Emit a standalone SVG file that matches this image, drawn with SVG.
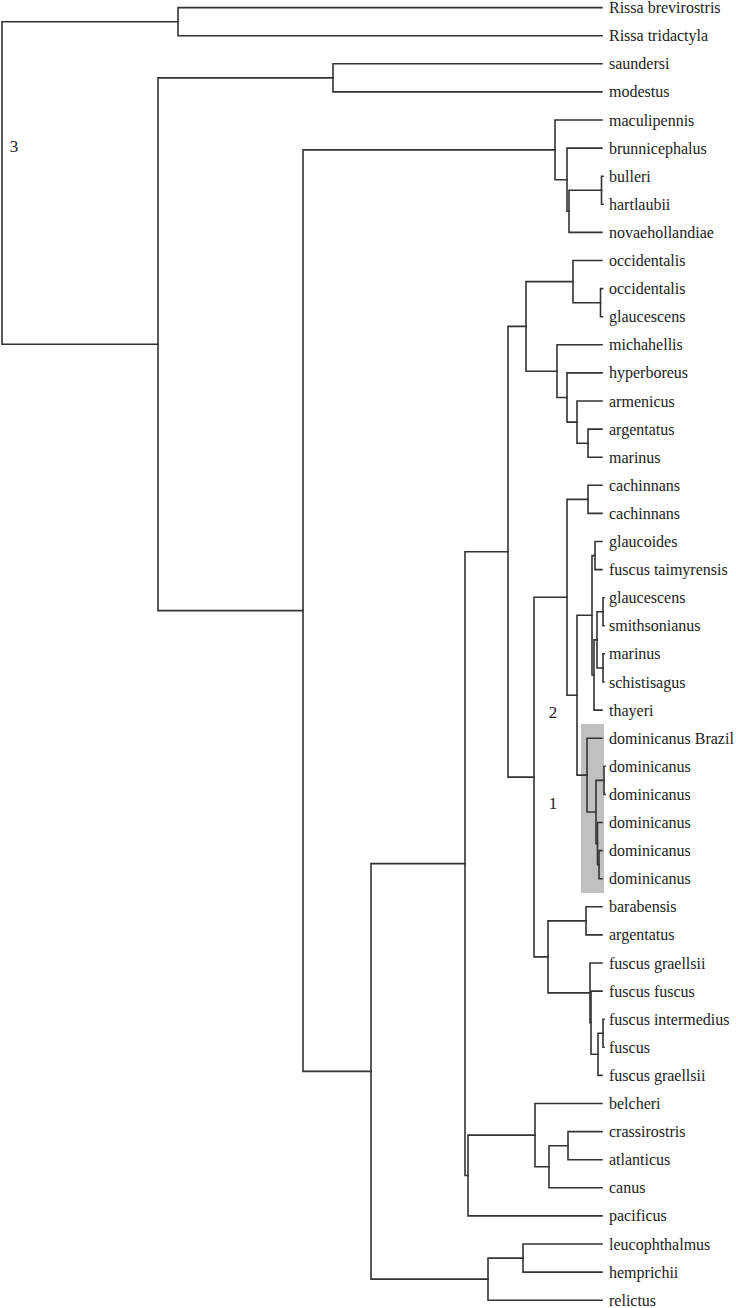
<svg xmlns="http://www.w3.org/2000/svg" width="736" height="1308" viewBox="0 0 736 1308">
<style>
.br{fill:none;stroke:#333;stroke-width:1.6;stroke-linecap:square}
.lf{font-family:"Liberation Serif","Times New Roman",serif;font-size:16px;fill:#222}
.cl{font-family:"Liberation Serif","Times New Roman",serif;font-size:17px;fill:#222;text-anchor:middle}
</style>
<rect x="0" y="0" width="736" height="1308" fill="#fff"/>
<rect id="highlight" x="581" y="724" width="23" height="169" fill="#c0c0c0"/>
<g id="connectors" class="br">
<path d="M178,21.7 H2 V344.2 H158"/>
<path d="M602,7.6 H178 V35.7 H602"/>
<path d="M333,77.9 H158 V610.6 H303"/>
<path d="M602,63.8 H333 V91.9 H602"/>
<path d="M555,149.9 H303 V1071.4 H371"/>
<path d="M602,120 H555 V179.7 H567"/>
<path d="M602,148.1 H567 V211.3 H569"/>
<path d="M601.5,190.3 H569 V232.4 H602"/>
<path d="M603,176.2 H601.5 V204.3 H603"/>
<path d="M465,863.6 H371 V1279.1 H488"/>
<path d="M508,551.7 H465 V1175.5 H468"/>
<path d="M526,326.4 H508 V777.1 H534"/>
<path d="M573,281.6 H526 V371.2 H557"/>
<path d="M602,260.5 H573 V302.7 H600.5"/>
<path d="M602.5,288.6 H600.5 V316.7 H602.5"/>
<path d="M602,344.8 H557 V397.5 H567"/>
<path d="M602,372.9 H567 V422.1 H577"/>
<path d="M602,401 H577 V443.2 H588"/>
<path d="M602,429.1 H588 V457.2 H602"/>
<path d="M567,597.3 H534 V956.9 H548"/>
<path d="M588,499.4 H567 V695.2 H577"/>
<path d="M602,485.3 H588 V513.4 H602"/>
<path d="M592,615.3 H577 V775.1 H587"/>
<path d="M595,555.6 H592 V675 H594"/>
<path d="M602,541.5 H595 V569.6 H602"/>
<path d="M597,639.9 H594 V710.1 H602"/>
<path d="M603,611.8 H597 V668 H603"/>
<path d="M604,597.7 H603 V625.8 H604"/>
<path d="M604,653.9 H603 V682 H604"/>
<path d="M602,738.2 H587 V812 H596"/>
<path d="M604,780.4 H596 V843.6 H597.5"/>
<path d="M605,766.3 H604 V794.4 H605"/>
<path d="M602,822.5 H597.5 V864.7 H599"/>
<path d="M602,850.6 H599 V878.7 H602"/>
<path d="M586,920.9 H548 V992.9 H590"/>
<path d="M602,906.8 H586 V934.9 H602"/>
<path d="M602,963 H590 V1022.7 H591"/>
<path d="M602,991.1 H591 V1054.3 H598"/>
<path d="M603,1033.3 H598 V1075.4 H602"/>
<path d="M604,1019.2 H603 V1047.3 H604"/>
<path d="M535,1135.1 H468 V1215.9 H602"/>
<path d="M602,1103.5 H535 V1166.7 H549"/>
<path d="M568,1145.7 H549 V1187.8 H602"/>
<path d="M602,1131.6 H568 V1159.7 H602"/>
<path d="M523,1258.1 H488 V1300.2 H602"/>
<path d="M602,1244 H523 V1272.1 H602"/>
</g>
<g id="clade-labels">
<text id="label-3" class="cl" x="14" y="152">3</text>
<text id="label-2" class="cl" x="553" y="718">2</text>
<text id="label-1" class="cl" x="553" y="809">1</text>
</g>
<g id="leaf-00"><text class="lf" x="609" y="13.1">Rissa brevirostris</text></g>
<g id="leaf-01"><text class="lf" x="609" y="41.2">Rissa tridactyla</text></g>
<g id="leaf-02"><text class="lf" x="609" y="69.3">saundersi</text></g>
<g id="leaf-03"><text class="lf" x="609" y="97.4">modestus</text></g>
<g id="leaf-04"><text class="lf" x="609" y="125.5">maculipennis</text></g>
<g id="leaf-05"><text class="lf" x="609" y="153.6">brunnicephalus</text></g>
<g id="leaf-06"><text class="lf" x="609" y="181.7">bulleri</text></g>
<g id="leaf-07"><text class="lf" x="609" y="209.8">hartlaubii</text></g>
<g id="leaf-08"><text class="lf" x="609" y="237.9">novaehollandiae</text></g>
<g id="leaf-09"><text class="lf" x="609" y="266">occidentalis</text></g>
<g id="leaf-10"><text class="lf" x="609" y="294.1">occidentalis</text></g>
<g id="leaf-11"><text class="lf" x="609" y="322.2">glaucescens</text></g>
<g id="leaf-12"><text class="lf" x="609" y="350.3">michahellis</text></g>
<g id="leaf-13"><text class="lf" x="609" y="378.4">hyperboreus</text></g>
<g id="leaf-14"><text class="lf" x="609" y="406.5">armenicus</text></g>
<g id="leaf-15"><text class="lf" x="609" y="434.6">argentatus</text></g>
<g id="leaf-16"><text class="lf" x="609" y="462.7">marinus</text></g>
<g id="leaf-17"><text class="lf" x="609" y="490.8">cachinnans</text></g>
<g id="leaf-18"><text class="lf" x="609" y="518.9">cachinnans</text></g>
<g id="leaf-19"><text class="lf" x="609" y="547">glaucoides</text></g>
<g id="leaf-20"><text class="lf" x="609" y="575.1">fuscus taimyrensis</text></g>
<g id="leaf-21"><text class="lf" x="609" y="603.2">glaucescens</text></g>
<g id="leaf-22"><text class="lf" x="609" y="631.3">smithsonianus</text></g>
<g id="leaf-23"><text class="lf" x="609" y="659.4">marinus</text></g>
<g id="leaf-24"><text class="lf" x="609" y="687.5">schistisagus</text></g>
<g id="leaf-25"><text class="lf" x="609" y="715.6">thayeri</text></g>
<g id="leaf-26"><text class="lf" x="609" y="743.7">dominicanus Brazil</text></g>
<g id="leaf-27"><text class="lf" x="609" y="771.8">dominicanus</text></g>
<g id="leaf-28"><text class="lf" x="609" y="799.9">dominicanus</text></g>
<g id="leaf-29"><text class="lf" x="609" y="828">dominicanus</text></g>
<g id="leaf-30"><text class="lf" x="609" y="856.1">dominicanus</text></g>
<g id="leaf-31"><text class="lf" x="609" y="884.2">dominicanus</text></g>
<g id="leaf-32"><text class="lf" x="609" y="912.3">barabensis</text></g>
<g id="leaf-33"><text class="lf" x="609" y="940.4">argentatus</text></g>
<g id="leaf-34"><text class="lf" x="609" y="968.5">fuscus graellsii</text></g>
<g id="leaf-35"><text class="lf" x="609" y="996.6">fuscus fuscus</text></g>
<g id="leaf-36"><text class="lf" x="609" y="1024.7">fuscus intermedius</text></g>
<g id="leaf-37"><text class="lf" x="609" y="1052.8">fuscus</text></g>
<g id="leaf-38"><text class="lf" x="609" y="1080.9">fuscus graellsii</text></g>
<g id="leaf-39"><text class="lf" x="609" y="1109">belcheri</text></g>
<g id="leaf-40"><text class="lf" x="609" y="1137.1">crassirostris</text></g>
<g id="leaf-41"><text class="lf" x="609" y="1165.2">atlanticus</text></g>
<g id="leaf-42"><text class="lf" x="609" y="1193.3">canus</text></g>
<g id="leaf-43"><text class="lf" x="609" y="1221.4">pacificus</text></g>
<g id="leaf-44"><text class="lf" x="609" y="1249.5">leucophthalmus</text></g>
<g id="leaf-45"><text class="lf" x="609" y="1277.6">hemprichii</text></g>
<g id="leaf-46"><text class="lf" x="609" y="1305.7">relictus</text></g>
</svg>
